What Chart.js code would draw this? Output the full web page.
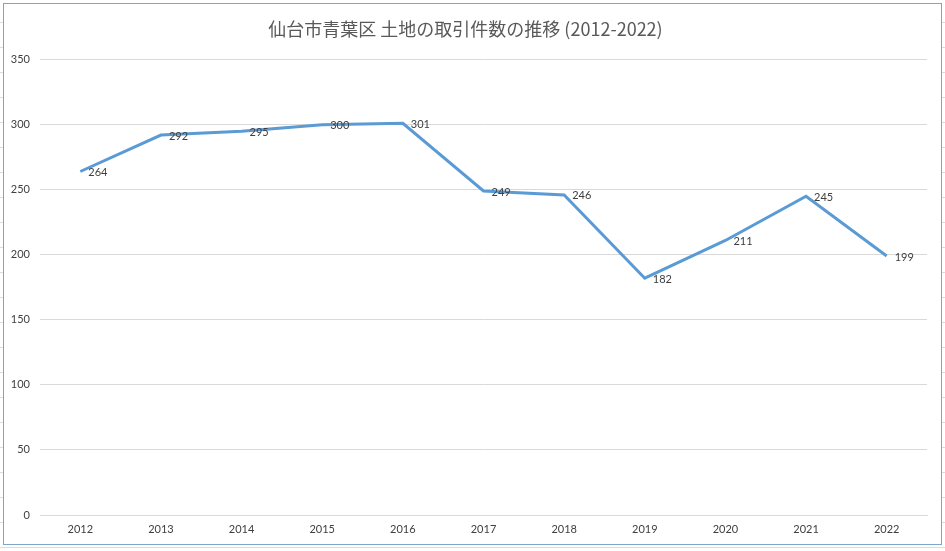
<!DOCTYPE html>
<html>
<head>
<meta charset="utf-8">
<script src="https://cdn.jsdelivr.net/npm/chart.js@4"></script>
<style>
  html, body {
    margin: 0;
    padding: 0;
    width: 945px;
    height: 551px;
    overflow: hidden;
    background-color: #fff;
    background-image:
      repeating-linear-gradient(to right, transparent 0, transparent 97px, #dadcdd 97px, #dadcdd 98px),
      repeating-linear-gradient(to bottom, transparent 0, transparent 22px, #dadcdd 22px, #dadcdd 23px);
    background-size: 94.5px 100%, 100% 25px;
  }

  #frame {
    position: absolute;
    left: 3px;
    top: 3px;
    width: 937px;
    height: 540px;
    border: 1px solid #7ea6cb;
    background: #fff;
  }

  #chart {
    display: block;
  }
</style>
</head>
<body>
<div id="frame">
  <canvas id="chart" width="937" height="540"></canvas>
</div>
<script>
const years = ['2012', '2013', '2014', '2015', '2016', '2017', '2018', '2019', '2020', '2021', '2022'];
const landDeals = [264, 292, 295, 300, 301, 249, 246, 182, 211, 245, 199];
const yTicks = [0, 50, 100, 150, 200, 250, 300, 350];
const chartTitle = '仙台市青葉区 土地の取引件数の推移 (2012-2022)';

const font = "Lato, 'Noto Sans', sans-serif";

// value labels to the right of each point, like Excel's "right" position
const valueLabels = {
  id: 'valueLabels',
  afterDatasetsDraw(chart) {
    const { ctx } = chart;
    const meta = chart.getDatasetMeta(0);
    ctx.save();
    ctx.font = `11px ${font}`;
    ctx.fillStyle = '#404040';
    ctx.textAlign = 'left';
    ctx.textBaseline = 'middle';
    meta.data.forEach((pt, i) => {
      ctx.fillText(String(chart.data.datasets[0].data[i]), pt.x + 8, pt.y + 1);
    });
    ctx.restore();
  },
};

new Chart(document.getElementById('chart'), {
  type: 'line',
  data: {
    labels: years,
    datasets: [{
      label: '取引件数',
      data: landDeals,
      borderColor: '#5b9bd5',
      borderWidth: 3,
      pointRadius: 0,
      tension: 0,
    }],
  },
  options: {
    responsive: false,
    animation: false,
    layout: {
      padding: { left: 0, right: 14, top: 0, bottom: 0 },
    },
    plugins: {
      legend: { display: false },
      tooltip: { enabled: false },
      title: {
        display: true,
        text: chartTitle,
        color: '#595959',
        font: { family: "'Noto Sans CJK JP', sans-serif", size: 18, weight: 'normal' },
        padding: { top: 14, bottom: 20 },
      },
    },
    scales: {
      x: {
        offset: true,
        grid: { display: false, drawTicks: false },
        border: { display: true, color: '#d9d9d9' },
        ticks: {
          color: '#404040',
          font: { family: font, size: 11 },
          padding: 8,
          maxRotation: 0,
        },
        afterFit(axis) {
          axis.height = 29;
        },
      },
      y: {
        min: 0,
        max: 350,
        afterBuildTicks(axis) {
          axis.ticks = yTicks.map((v) => ({ value: v }));
        },
        grid: { color: '#d9d9d9', drawTicks: false },
        border: { display: false },
        ticks: {
          color: '#404040',
          font: { family: font, size: 11 },
          padding: 10,
        },
        afterFit(axis) {
          axis.width = 36;
        },
      },
    },
  },
  plugins: [valueLabels],
});
</script>
</body>
</html>
